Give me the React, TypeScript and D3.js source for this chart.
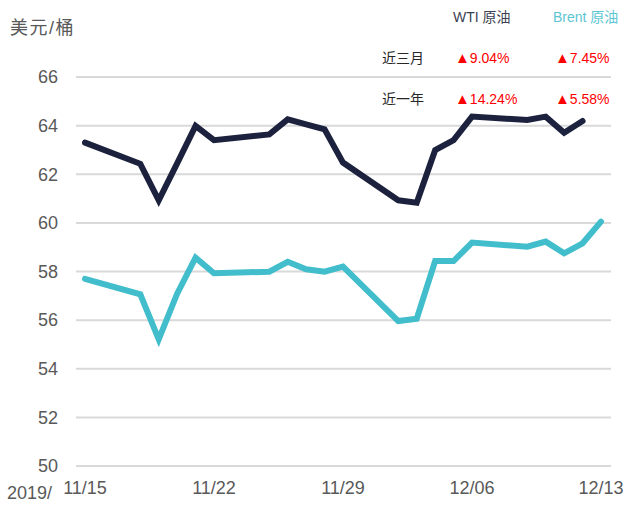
import * as d3 from 'd3'

const dates = [
  '2019-11-15', '2019-11-18', '2019-11-19', '2019-11-20', '2019-11-21', '2019-11-22',
  '2019-11-25', '2019-11-26', '2019-11-27', '2019-11-28', '2019-11-29',
  '2019-12-02', '2019-12-03', '2019-12-04', '2019-12-05', '2019-12-06',
  '2019-12-09', '2019-12-10', '2019-12-11', '2019-12-12', '2019-12-13'
]

const wti = [
  63.3, 62.43, 60.93, 62.45, 63.99, 63.4, 63.64, 64.26, 64.05, 63.85, 62.48,
  60.93, 60.83, 62.99, 63.4, 64.37, 64.23, 64.37, 63.71, 64.19, null
]

const brent = [
  57.7, 57.06, 55.21, 57.09, 58.57, 57.93, 57.99, 58.4, 58.09, 57.99, 58.2,
  55.96, 56.06, 58.43, 58.43, 59.19, 59.02, 59.23, 58.75, 59.16, 60.05
]

const yTicks = [50, 52, 54, 56, 58, 60, 62, 64, 66]
const xTicks = ['2019-11-15', '2019-11-22', '2019-11-29', '2019-12-06', '2019-12-13']

const seriesNames = ['WTI 原油', 'Brent 原油']
const rowLabels = ['近三月', '近一年']
const wtiChange = ['9.04%', '14.24%']
const brentChange = ['7.45%', '5.58%']

const font = '"Liberation Sans", Arial, "Noto Sans CJK SC", sans-serif'
const navy = '#1c223d'
const teal = '#41bdcb'

function App() {
  const parse = d3.timeParse('%Y-%m-%d')
  const fmt = d3.timeFormat('%m/%d')

  const x = d3
    .scaleTime()
    .domain([parse(dates[0])!, parse(dates[dates.length - 1])!])
    .range([85, 601])

  const y = d3.scaleLinear().domain([50, 66]).range([466, 77])

  const line = d3
    .line<[string, number | null]>()
    .defined(d => d[1] !== null)
    .x(d => x(parse(d[0])!))
    .y(d => y(d[1] as number))

  const wtiPath = line(dates.map((d, i) => [d, wti[i]]))
  const brentPath = line(dates.map((d, i) => [d, brent[i]]))

  return (
    <div style={{ position: 'fixed', left: 0, top: 0 }}>
      <svg width={627} height={505} style={{ display: 'block', fontFamily: font }}>
        <rect width={627} height={505} fill="#fff" />
        {yTicks.map(t => (
          <g key={t}>
            <line x1={76} x2={611} y1={y(t)} y2={y(t)} stroke="#d9d9d9" strokeWidth={2} />
            <text x={58} y={y(t)} dy="0.35em" textAnchor="end" fontSize={18} fill="#595959">
              {t}
            </text>
          </g>
        ))}
        {xTicks.map(t => (
          <text key={t} x={x(parse(t)!)} y={494} textAnchor="middle" fontSize={18} fill="#595959">
            {fmt(parse(t)!)}
          </text>
        ))}
        <text x={7} y={499} fontSize={18} fill="#595959">2019/</text>
        <text x={10} y={34} fontSize={18} fill="#595959" letterSpacing={1.5}>美元/桶</text>

        <path d={wtiPath!} fill="none" stroke={navy} strokeWidth={6} strokeLinecap="round" />
        <path d={brentPath!} fill="none" stroke={teal} strokeWidth={6} strokeLinecap="round" />

        <text x={453} y={22} fontSize={14} fill="#3b4152">{seriesNames[0]}</text>
        <text x={553} y={22} fontSize={14} fill="#5cc5d2">{seriesNames[1]}</text>
        {rowLabels.map((r, i) => (
          <g key={r}>
            <text x={382} y={63 + i * 41} fontSize={14} fill="#262626">{r}</text>
            <text x={455} y={63 + i * 41} fontSize={14} fill="#ff0000">
              <tspan fontSize={15}>▲</tspan>{wtiChange[i]}
            </text>
            <text x={555} y={63 + i * 41} fontSize={14} fill="#ff0000">
              <tspan fontSize={15}>▲</tspan>{brentChange[i]}
            </text>
          </g>
        ))}
      </svg>
    </div>
  )
}

export default App
